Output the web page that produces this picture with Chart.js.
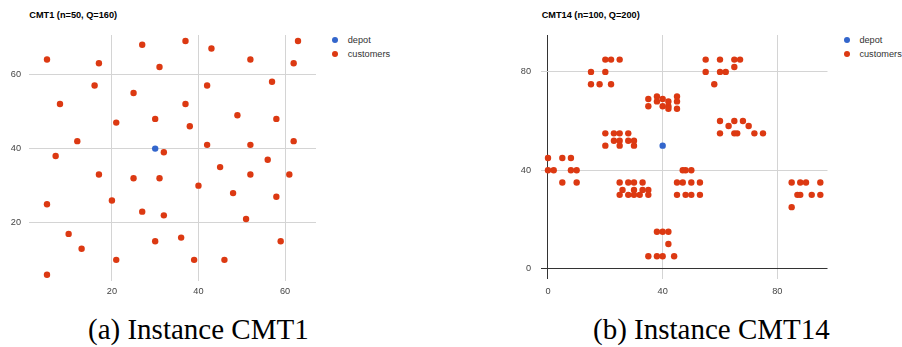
<!DOCTYPE html>
<html lang="en">
<head>
<meta charset="UTF-8">
<title>CMT1 / CMT14 instances</title>
<script src="https://cdn.jsdelivr.net/npm/chart.js"></script>
<style>
  body { margin: 0; background: #fff; font-family: Arial, "Liberation Sans", sans-serif; }
  .page { position: relative; width: 902px; height: 347px; overflow: hidden; }
  canvas { position: absolute; top: 0; }
  .title { position: absolute; top: 9px; font-size: 9.2px; line-height: 12px; font-weight: bold; color: #000; white-space: nowrap; }
  .legend { position: absolute; top: 32.85px; font-size: 9.2px; color: #333; }
  .legend div { position: relative; height: 14.3px; line-height: 14.3px; padding-left: 12.7px; white-space: nowrap; }
  .legend span { position: absolute; left: -3.2px; top: 3.95px; width: 6.4px; height: 6.4px; border-radius: 50%; }
  .caption { position: absolute; top: 315px; font-family: "Liberation Serif", "DejaVu Serif", "Times New Roman", serif; font-size: 29px; line-height: 29px; color: #000; white-space: nowrap; }
</style>
</head>
<body>
<div class="page">
  <div class="title" style="left: 29.3px;">CMT1 (n=50, Q=160)</div>
  <canvas id="cmt1Chart" width="330" height="300" style="left: 0;"></canvas>
  <div class="legend" id="cmt1Legend" style="left: 335px;"></div>

  <div class="title" style="left: 541.7px;">CMT14 (n=100, Q=200)</div>
  <canvas id="cmt14Chart" width="340" height="300" style="left: 500px;"></canvas>
  <div class="legend" id="cmt14Legend" style="left: 846.7px;"></div>

  <div class="caption" style="left: 88px;">(a) Instance CMT1</div>
  <div class="caption" style="left: 593px;">(b) Instance CMT14</div>
</div>

<script>
// CMT1: depot + 50 customers
const cmt1Depot = [30, 40];
const cmt1X = [37, 49, 52, 20, 40, 21, 17, 31, 52, 51, 42, 31, 5, 12, 36, 52, 27, 17, 13, 57,
               62, 42, 16, 8, 7, 27, 30, 43, 58, 58, 37, 38, 46, 61, 62, 63, 32, 45, 59, 5,
               10, 21, 5, 30, 39, 32, 25, 25, 48, 56];
const cmt1Y = [52, 49, 64, 26, 30, 47, 63, 62, 33, 21, 41, 32, 25, 42, 16, 41, 23, 33, 13, 58,
               42, 57, 57, 52, 38, 68, 48, 67, 48, 27, 69, 46, 10, 33, 63, 69, 22, 35, 15, 6,
               17, 10, 64, 15, 10, 39, 32, 55, 28, 37];
const cmt1Ticks = [20, 40, 60];

// CMT14: depot + 100 clustered customers
const cmt14Depot = [40, 50];
const cmt14X = [45, 45, 42, 42, 42, 40, 40, 38, 38, 35, 35, 25, 22, 22, 20, 20, 18, 15, 15, 30,
                30, 28, 28, 25, 25, 25, 23, 23, 20, 20, 10, 10, 8, 8, 5, 5, 2, 0, 0, 35,
                35, 33, 33, 32, 30, 30, 30, 28, 28, 26, 25, 25, 44, 42, 42, 40, 40, 38, 38, 35,
                50, 50, 50, 48, 48, 47, 47, 45, 45, 95, 95, 53, 92, 53, 45, 90, 88, 88, 87, 85,
                85, 75, 72, 70, 68, 66, 65, 65, 63, 60, 60, 67, 65, 65, 62, 60, 60, 58, 55, 55];
const cmt14Y = [68, 70, 66, 68, 65, 69, 66, 68, 70, 66, 69, 85, 75, 85, 80, 85, 75, 75, 80, 50,
                52, 52, 55, 50, 52, 55, 52, 55, 50, 55, 35, 40, 40, 45, 35, 45, 40, 40, 45, 30,
                32, 32, 35, 30, 30, 32, 35, 30, 35, 32, 30, 35, 5, 10, 15, 5, 15, 5, 15, 5,
                30, 35, 40, 30, 40, 35, 40, 30, 35, 30, 35, 30, 30, 35, 65, 35, 30, 35, 30, 25,
                35, 55, 55, 58, 60, 55, 55, 60, 58, 55, 60, 85, 85, 82, 80, 80, 85, 75, 80, 85];
const cmt14Ticks = [0, 40, 80];

const seriesNames = ['depot', 'customers'];
const seriesColors = ['#3366cc', '#dc3912'];

const tickFont = { family: 'Arial, "Liberation Sans", sans-serif', size: 9.2 };
const tickColor = '#444';

function points(xs, ys) {
    return xs.map((x, i) => ({ x: x, y: ys[i] }));
}

function makeChart(canvasId, legendId, depot, xs, ys, ticks, box) {
    const setTicks = s => { s.ticks = ticks.map(v => ({ value: v })); };
    // the zero lines get the darker baseline colour
    const gridColor = c => (c.tick && c.tick.value === 0) ? '#333' : '#d4d4d4';

    const chart = new Chart(document.getElementById(canvasId), {
        type: 'scatter',
        data: {
            datasets: [
                { label: seriesNames[0], data: [{ x: depot[0], y: depot[1] }], backgroundColor: seriesColors[0] },
                { label: seriesNames[1], data: points(xs, ys), backgroundColor: seriesColors[1] }
            ]
        },
        options: {
            responsive: false,
            animation: false,
            events: [],
            elements: { point: { radius: 3.2, hoverRadius: 3.2, borderWidth: 0 } },
            layout: { padding: { top: 35, right: box.padRight, left: 0, bottom: 0 } },
            plugins: { legend: { display: false }, tooltip: { enabled: false } },
            scales: {
                x: {
                    min: box.xMin, max: box.xMax,
                    afterBuildTicks: setTicks,
                    afterFit: s => { s.height = box.xAxisH; },
                    grid: { color: gridColor, drawTicks: false },
                    border: { display: false },
                    ticks: { padding: box.xTickPad, color: tickColor, font: tickFont, maxRotation: 0 }
                },
                y: {
                    min: box.yMin, max: box.yMax,
                    afterBuildTicks: setTicks,
                    afterFit: s => { s.width = box.yAxisW; },
                    grid: { color: gridColor, drawTicks: false },
                    border: { display: false },
                    ticks: { padding: box.yTickPad, color: tickColor, font: tickFont }
                }
            }
        }
    });

    // legend on the right, one row per series
    const legend = document.getElementById(legendId);
    chart.data.datasets.forEach(ds => {
        const row = document.createElement('div');
        const dot = document.createElement('span');
        dot.style.background = ds.backgroundColor;
        row.appendChild(dot);
        row.appendChild(document.createTextNode(ds.label));
        legend.appendChild(row);
    });
    return chart;
}

makeChart('cmt1Chart', 'cmt1Legend', cmt1Depot, cmt1X, cmt1Y, cmt1Ticks, {
    xMin: 0.84, xMax: 67.16, yMin: 4.3, yMax: 70.62,
    padRight: 14, yAxisW: 29, xAxisH: 19, yTickPad: 8, xTickPad: 5
});

makeChart('cmt14Chart', 'cmt14Legend', cmt14Depot, cmt14X, cmt14Y, cmt14Ticks, {
    xMin: -2.44, xMax: 97.5, yMin: -4.35, yMax: 95.0,
    padRight: 12.5, yAxisW: 41, xAxisH: 20.7, yTickPad: 10, xTickPad: 7
});
</script>
</body>
</html>
